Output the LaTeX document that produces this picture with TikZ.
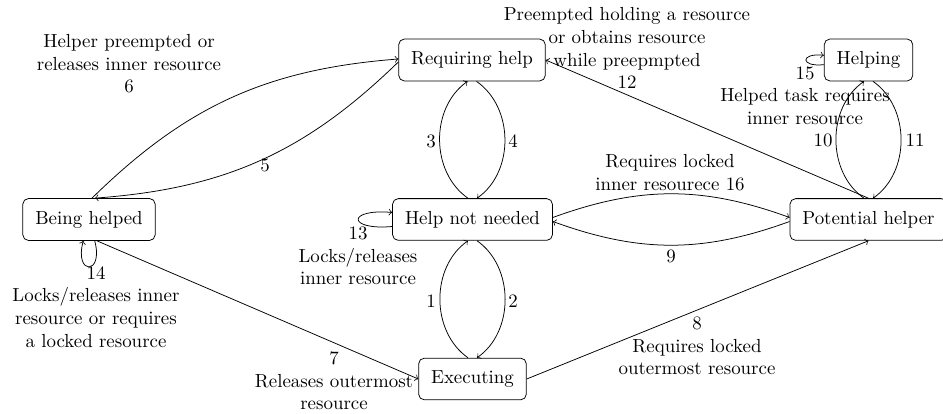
\documentclass[tikz,border=0pt]{standalone}
\usetikzlibrary{calc}
\begin{document}
\begin{tikzpicture}[x=0.529pt,y=0.529pt,
  state/.style={draw, rounded corners=3pt, inner sep=6.6pt},
  lbl/.style={align=center, inner sep=0pt},
  conn/.style={->}]
\useasboundingbox (0,0) rectangle (943,414);
% states
\node[state] (RH) at (472,354) {Requiring help};
\node[state] (HG) at (868.5,354) {Helping};
\node[state] (BH) at (89,194.5) {Being helped};
\node[state] (HN) at (472.5,194.5) {Help not needed};
\node[state] (PH) at (868.5,194.5) {Potential helper};
\node[state] (EX) at (472.5,35) {Executing};
% 1,2
\draw[conn] ($(EX.north)+(-4.5,0)$) to[bend left=55] ($(HN.south)+(-4.5,0)$);
\draw[conn] ($(HN.south)+(4.5,0)$) to[bend left=55] ($(EX.north)+(4.5,0)$);
% 3,4
\draw[conn] ($(HN.north)+(-4.5,0)$) to[bend left=55] ($(RH.south)+(-4.5,0)$);
\draw[conn] ($(RH.south)+(4.5,0)$) to[bend left=55] ($(HN.north)+(4.5,0)$);
% 10,11
\draw[conn] ($(PH.north)+(-4.5,0)$) to[bend left=55] ($(HG.south)+(-4.5,0)$);
\draw[conn] ($(HG.south)+(4.5,0)$) to[bend left=55] ($(PH.north)+(4.5,0)$);
% 5,6
\draw[conn] ($(BH.north)+(3,0)$) to[bend left=20] ($(RH.west)+(0,1)$);
\draw[conn] ($(RH.west)+(0,-2)$) to[bend left=20] ($(BH.north)+(6,0)$);
% 16,9
\draw[conn] ($(HN.east)+(0,2)$) to[bend left=20] ($(PH.west)+(0,2)$);
\draw[conn] ($(PH.west)+(0,-2)$) to[bend left=20] ($(HN.east)+(0,-2)$);
% 7,8,12
\draw[conn] ($(BH.south)+(8,0)$) -- (EX.west);
\draw[conn] (EX.east) -- (PH.south);
\draw[conn] (PH.north) -- (RH.east);
% loops
\draw[conn] (HN) to[out=185,in=175,distance=24pt] (HN);
\draw[conn] (HG) to[out=186,in=174,distance=12.7pt] (HG);
\draw[conn] (BH) to[out=-75,in=-105,distance=19pt] (BH);
% labels
\node[lbl] (l1) at (431,113) {1};
\node[lbl] (l2) at (513,113) {2};
\node[lbl] (l3) at (431,273) {3};
\node[lbl] (l4) at (513,273) {4};
\node[lbl] (l5) at (265,249) {5};
\node[lbl] (l6) at (129,350.3) {Helper preempted or\\releases inner resource\\6};
\node[lbl] (l7) at (334,33) {7\\Releases outermost\\resource};
\node[lbl] (l8) at (697,68) {8\\Requires locked\\outermost resource};
\node[lbl] (l9) at (671,158) {9};
\node[lbl] (l10t) at (805,307.5) {Helped task requires\\inner resource};
\node[lbl] (l10) at (823,274) {10};
\node[lbl] (l11) at (915,274) {11};
\node[lbl] (l12) at (627,365.75) {Preempted holding a resource\\or obtains resource\\while preepmpted\\12};
\node[lbl] (l13) at (358,158) {13\\Locks/releases\\inner resource};
\node[lbl] (l14) at (96,107) {14\\Locks/releases inner\\resource or requires\\a locked resource};
\node[lbl] (l15) at (805,341) {15};
\node[lbl] (l16) at (670,241.5) {Requires locked\\inner resourece 16};
\end{tikzpicture}
\end{document}
